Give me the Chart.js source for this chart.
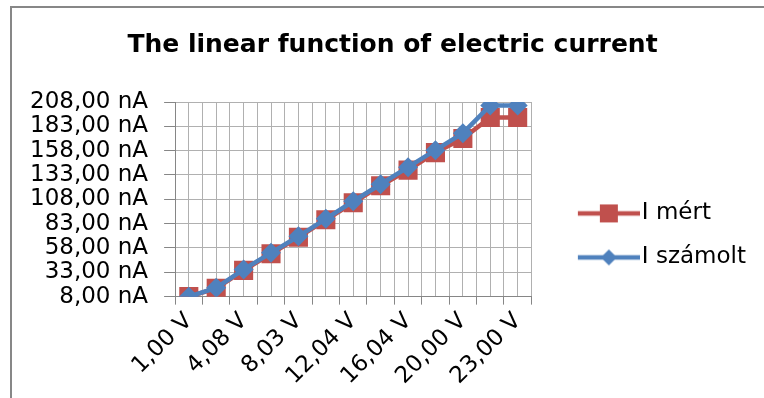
<!DOCTYPE html>
<html>
<head>
<meta charset="utf-8">
<script src="https://cdn.jsdelivr.net/npm/chart.js@4.4.1/dist/chart.umd.min.js"></script>
<style>
  html, body { margin: 0; padding: 0; background: #fff; overflow: hidden; }
  #frame { position: absolute; left: 10px; top: 6px; width: 760px; height: 400px;
           border-top: 2px solid #878787; border-left: 2px solid #878787; }
  #chart { position: absolute; left: 12px; top: 8px; }
</style>
</head>
<body>
<div id="frame"></div>
<canvas id="chart" width="752" height="390"></canvas>
<script>
// feszültség (kategóriák)
const voltages = ['1,00 V', '2,00 V', '4,08 V', '6,02 V', '8,03 V', '10,00 V', '12,04 V',
                  '14,03 V', '16,04 V', '18,02 V', '20,00 V', '22,98 V', '23,00 V'];
// mért áram (nA)
const iMert = [8, 16.5, 35, 52, 69, 87, 104.5, 122, 138, 156, 170.5, 192, 192];
// számolt áram (nA)
const iSzamolt = [8, 17, 36, 53, 70, 88, 106, 123.5, 141, 158.5, 176, 204.5, 204.5];
// y tengely
const yMin = 8, yMax = 208, yStep = 25;

const RED = '#C0504D';
const BLUE = '#4F81BD';
const AXIS = '#868686';
const GRID = '#b0b0b0';
const FONT = 'DejaVu Sans';

// jelmagyarázat ikon: vonal + jelölő (bal oldalon átlátszó rész)
const ICON_W = 97;
function legendIcon(color, shape) {
    const c = document.createElement('canvas');
    c.width = ICON_W; c.height = 22;
    const g = c.getContext('2d');
    const x0 = ICON_W - 62, mid = x0 + 31;
    g.strokeStyle = color;
    g.lineWidth = 4.5;
    g.beginPath(); g.moveTo(x0, 11); g.lineTo(ICON_W, 11); g.stroke();
    g.fillStyle = color;
    if (shape === 'rect') {
        g.fillRect(mid - 9, 2, 18, 18);
    } else {
        g.beginPath();
        g.moveTo(mid, 3); g.lineTo(mid + 8, 11); g.lineTo(mid, 19); g.lineTo(mid - 8, 11);
        g.closePath(); g.fill();
    }
    return c;
}
const icons = [legendIcon(RED, 'rect'), legendIcon(BLUE, 'rectRot')];

const toPoints = arr => arr.map((v, i) => ({ x: i, y: v }));

// a cím kicsit jobbra tolva, mint az eredetin
const titleShift = {
    id: 'titleShift',
    afterLayout(chart) {
        if (chart.titleBlock) chart.titleBlock.left += 15;
    }
};

new Chart(document.getElementById('chart'), {
    type: 'line',
    data: {
        datasets: [{
            label: 'I mért',
            data: toPoints(iMert),
            order: 2,
            borderColor: RED,
            backgroundColor: RED,
            borderWidth: 4.5,
            pointStyle: 'rect',
            pointRadius: 13.5,
            pointBorderWidth: 0,
            tension: 0
        }, {
            label: 'I számolt',
            data: toPoints(iSzamolt),
            order: 1,
            borderColor: BLUE,
            backgroundColor: BLUE,
            borderWidth: 4.5,
            pointStyle: 'rectRot',
            pointRadius: 10,
            pointBorderWidth: 0,
            tension: 0
        }]
    },
    plugins: [titleShift],
    options: {
        responsive: false,
        animation: false,
        layout: { padding: { left: 2, right: 8, top: 0, bottom: 5 } },
        plugins: {
            title: {
                display: true,
                text: 'The linear function of electric current',
                color: '#000',
                font: { family: FONT, size: 25, weight: 'bold' },
                padding: { top: 22, bottom: 42 }
            },
            legend: {
                position: 'right',
                align: 'start',
                maxWidth: 400,
                title: { display: true, text: ' ', font: { size: 12 }, padding: { top: 158.5, bottom: 0 } },
                labels: {
                    color: '#000',
                    font: { family: FONT, size: 23 },
                    usePointStyle: true,
                    pointStyleWidth: 78,
                    padding: 21,
                    sort: (a, b) => a.datasetIndex - b.datasetIndex,
                    generateLabels: chart => {
                        const items = Chart.defaults.plugins.legend.labels.generateLabels(chart);
                        items.forEach(it => { it.pointStyle = icons[it.datasetIndex]; });
                        return items;
                    }
                }
            },
            tooltip: { enabled: false }
        },
        scales: {
            x: {
                type: 'linear',
                min: -0.5,
                max: voltages.length - 0.5,
                grid: {
                    color: GRID,
                    tickLength: 8,
                    tickColor: ctx => (ctx.tick && Number.isInteger(ctx.tick.value)) ? 'rgba(0,0,0,0)' : AXIS
                },
                border: { color: AXIS, width: 1 },
                ticks: {
                    stepSize: 0.5,
                    autoSkip: false,
                    minRotation: 45,
                    maxRotation: 45,
                    color: '#000',
                    font: { family: FONT, size: 23 },
                    callback: v => (Number.isInteger(v) && v % 2 === 0) ? voltages[v] : ''
                }
            },
            y: {
                min: yMin,
                max: yMax,
                grid: { color: GRID, tickLength: 11, tickColor: AXIS },
                border: { color: AXIS, width: 1 },
                ticks: {
                    stepSize: yStep,
                    autoSkip: false,
                    padding: 16,
                    color: '#000',
                    font: { family: FONT, size: 23 },
                    callback: v => v.toFixed(2).replace('.', ',') + ' nA'
                }
            }
        }
    }
});
</script>
</body>
</html>
